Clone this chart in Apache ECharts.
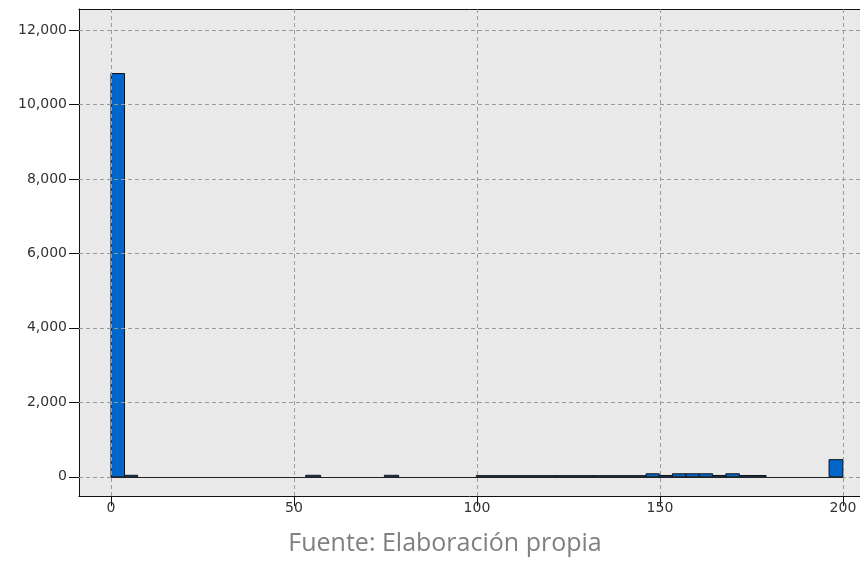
<!DOCTYPE html>
<html>
<head>
<meta charset="utf-8">
<script src="https://cdn.jsdelivr.net/npm/echarts@6/dist/echarts.min.js"></script>
<style>html,body{margin:0;padding:0;background:#fff}#c{width:860px;height:561px}</style>
</head>
<body>
<div id="c"></div>
<script>
// Histogram bins (lower edge, upper edge) and counts
const binLo = [0, 3.7, 53.2, 74.7,
  99.8, 103.4, 107.0, 110.5, 114.1, 117.7, 121.3, 124.9, 128.5, 132.0, 135.6, 139.2, 142.8,
  146.2, 149.8, 153.4, 157.1, 160.7, 164.4, 168.0, 171.7, 175.3, 196.2];
const binHi = [3.7, 7.3, 57.3, 78.6,
  103.4, 107.0, 110.5, 114.1, 117.7, 121.3, 124.9, 128.5, 132.0, 135.6, 139.2, 142.8, 146.2,
  149.8, 153.4, 157.1, 160.7, 164.4, 168.0, 171.7, 175.3, 179.0, 200];
const counts = [10830, 40, 40, 40,
  30, 30, 30, 30, 30, 30, 30, 30, 30, 30, 30, 30, 30,
  80, 35, 80, 80, 80, 35, 80, 35, 35, 460];
const yTicks = [0, 2000, 4000, 6000, 8000, 10000, 12000];
const xTicks = [0, 50, 100, 150, 200];
const footer = 'Fuente: Elaboración propia';

const chart = echarts.init(document.getElementById('c'));
const gridLine = {type: [4, 3], color: '#9a9a9a', width: 1};
const markData = [];
yTicks.forEach(v => markData.push({yAxis: v}));
xTicks.forEach(v => markData.push({xAxis: v}));
const fmt = v => String(v).replace(/\B(?=(\d{3})+(?!\d))/g, ',');
const labelFont = {color: '#333', fontSize: 14, fontFamily: 'DejaVu Sans'};

chart.setOption({
  animation: false,
  grid: {left: 79, top: 9, right: 0, bottom: 65, show: true, backgroundColor: '#e9e9e9', borderWidth: 0},
  xAxis: [{
    type: 'value', min: -8.74, max: 204.65, position: 'bottom',
    axisLine: {onZero: false, show: true, lineStyle: {color: '#111'}},
    axisTick: {show: true, length: 10, customValues: xTicks, lineStyle: {color: '#111'}},
    axisLabel: Object.assign({customValues: xTicks, margin: 5}, labelFont),
    splitLine: {show: false}
  }, {
    type: 'value', min: -8.74, max: 204.65, position: 'top',
    axisLine: {onZero: false, show: true, lineStyle: {color: '#111'}},
    axisTick: {show: false}, axisLabel: {show: false}, splitLine: {show: false}
  }],
  yAxis: {
    type: 'value', min: -516, max: 12564,
    axisLine: {onZero: false, show: true, lineStyle: {color: '#111'}},
    axisTick: {show: true, length: 10, customValues: yTicks, lineStyle: {color: '#111'}},
    axisLabel: Object.assign({customValues: yTicks, margin: 12, formatter: fmt}, labelFont),
    splitLine: {show: false}
  },
  series: [
    {
      type: 'line', data: [], silent: true, z: 1,
      markLine: {silent: true, symbol: 'none', label: {show: false}, lineStyle: gridLine, data: markData, animation: false}
    },
    {
      type: 'line', data: [], silent: true, z: 2,
      markLine: {silent: true, symbol: 'none', label: {show: false},
        lineStyle: {type: 'solid', color: '#222', width: 1},
        data: [[{coord: [xTicks[0], 0]}, {coord: [xTicks[xTicks.length - 1], 0]}]], animation: false}
    },
    {
      type: 'custom', z: 3,
      data: binLo.map((lo, i) => [lo, binHi[i], counts[i]]),
      encode: {x: [0, 1], y: 2},
      renderItem: function (params, api) {
        const p0 = api.coord([api.value(0), 0]);
        const p1 = api.coord([api.value(1), api.value(2)]);
        return {
          type: 'rect',
          shape: {x: p0[0], y: p1[1], width: p1[0] - p0[0], height: p0[1] - p1[1]},
          style: {fill: '#0066cc', stroke: '#111', lineWidth: 1}
        };
      }
    }
  ],
  graphic: [{
    type: 'text', x: 445, y: 544,
    style: {text: footer, fill: '#808080', fontSize: 25, fontFamily: 'Open Sans', align: 'center', verticalAlign: 'middle'}
  }]
});
</script>
</body>
</html>
